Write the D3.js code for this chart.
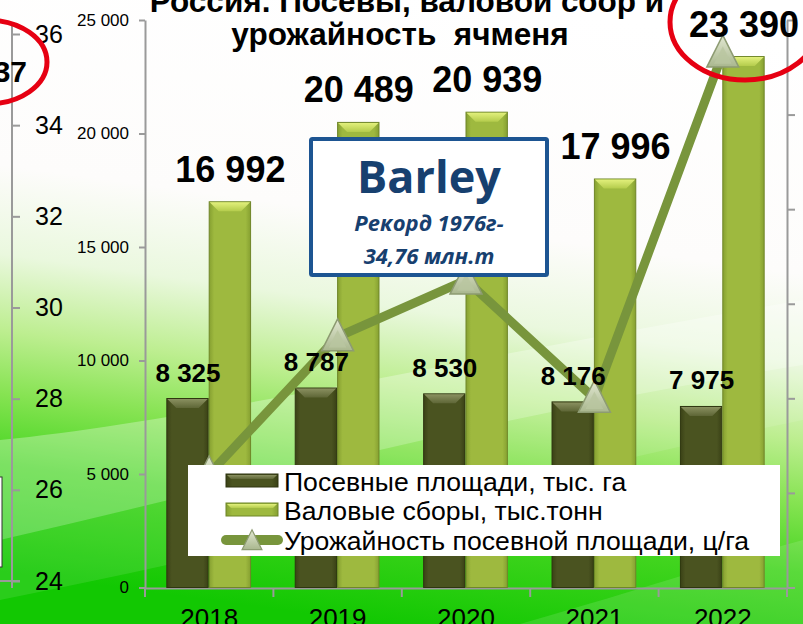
<!DOCTYPE html>
<html><head><meta charset="utf-8">
<script src="https://cdn.jsdelivr.net/npm/d3@7"></script>
<style>
html,body{margin:0;padding:0;background:#fff;overflow:hidden}
svg{display:block}
text{white-space:pre}
</style></head>
<body>
<svg id="chart" width="803" height="624"></svg>
<script>
// ---- data ----
const years = ["2018", "2019", "2020", "2021", "2022"];
const sownArea = [8325, 8787, 8530, 8176, 7975];          // тыс. га
const grossHarvest = [16992, 20489, 20939, 17996, 23390];  // тыс. тонн
const yieldValues = [20.4, 23.3, 24.5, 22.0, 29.3];       // ц/га
const barTicks = [0, 5000, 10000, 15000, 20000, 25000];
const yieldTicks = [18, 20, 22, 24, 26, 28, 30];
const neighbourTicks = [24, 26, 28, 30, 32, 34, 36];
const seriesNames = ["Посевные площади, тыс. га", "Валовые сборы, тыс.тонн", "Урожайность посевной площади, ц/га"];
const titleLines = ["Россия. Посевы, валовой сбор и", "урожайность  ячменя"];
const noteLines = ["Barley", "Рекорд 1976г-", "34,76 млн.т"];
const neighbourLabel = "37";

const W = 803, H = 624;
const svg = d3.select("#chart");
const defs = svg.append("defs");
const fmt = v => d3.format(",")(v).replace(/,/g, " ");

// ---- background ----
const bg = defs.append("linearGradient").attr("id", "bg").attr("gradientUnits", "userSpaceOnUse")
  .attr("x1", 470).attr("y1", 0).attr("x2", 385).attr("y2", 624);
[[0, "#ffffff"], [0.36, "#fdfcfb"], [0.5, "#eaf8de"], [0.62, "#bdee90"], [0.72, "#86e352"], [0.83, "#44d520"], [1, "#12c802"]]
  .forEach(([o, c]) => bg.append("stop").attr("offset", o).attr("stop-color", c));
svg.append("rect").attr("width", W).attr("height", H).attr("fill", "url(#bg)");
// soft light waves
svg.append("path")
  .attr("d", "M0,440 C200,420 450,360 803,300 L803,365 C520,410 260,480 0,540 Z")
  .attr("fill", "#ffffff").attr("opacity", 0.3);
svg.append("path")
  .attr("d", "M0,540 C260,480 520,410 803,365 L803,420 C560,470 300,540 0,600 Z")
  .attr("fill", "#ffffff").attr("opacity", 0.10);
svg.append("path")
  .attr("d", "M520,624 C640,590 730,560 803,540 L803,624 Z")
  .attr("fill", "#ffffff").attr("opacity", 0.12);

// ---- scales ----
const x = d3.scaleBand().domain(years).range([145, 787]).paddingInner(0.34).paddingOuter(0.17);
const xs = d3.scaleBand().domain(["area", "harvest"]).range([0, x.bandwidth()]).padding(0);
const y = d3.scaleLinear().domain([0, 25000]).range([587.5, 20]);
const yR = d3.scaleLinear().domain([18, 30]).range([587.5, 20]);
const yN = d3.scaleLinear().domain([24, 36]).range([581, 34]);

const axisColor = "#9a9a9a";

// ---- neighbouring (cropped) axis on the left ----
svg.append("line").attr("x1", 12).attr("x2", 12).attr("y1", 25).attr("y2", 588)
  .attr("stroke", axisColor).attr("stroke-width", 2);
svg.append("line").attr("x1", 0).attr("x2", 20).attr("y1", yN(24)).attr("y2", yN(24))
  .attr("stroke", axisColor).attr("stroke-width", 2);
const gN = svg.append("g").attr("transform", "translate(12,0)")
  .call(d3.axisRight(yN).tickValues(neighbourTicks).tickSize(8).tickPadding(15).tickSizeOuter(0));
gN.select(".domain").remove();
gN.selectAll("line").attr("stroke", axisColor).attr("stroke-width", 2);
gN.selectAll("text").attr("font-family", "Liberation Sans, Arial, sans-serif").attr("font-size", 25).attr("fill", "#000");
svg.append("rect").attr("x", -10).attr("y", 477).attr("width", 12).attr("height", 90)
  .attr("fill", "#fff").attr("stroke", "#333").attr("stroke-width", 1);

// ---- bar axis (left) ----
const gL = svg.append("g").attr("transform", "translate(145,0)")
  .call(d3.axisLeft(y).tickValues(barTicks).tickFormat(fmt).tickSize(6).tickPadding(10).tickSizeOuter(0));
gL.select(".domain").attr("stroke", axisColor).attr("stroke-width", 2);
gL.selectAll("line").attr("stroke", axisColor).attr("stroke-width", 2);
gL.selectAll("text").attr("font-family", "Liberation Sans, Arial, sans-serif").attr("font-size", 17).attr("fill", "#000");

// ---- right yield axis (its labels lie beyond the cropped edge) ----
const gR = svg.append("g").attr("transform", "translate(787,0)")
  .call(d3.axisRight(yR).tickValues(yieldTicks).tickFormat("").tickSize(8).tickSizeOuter(0));
gR.select(".domain").attr("stroke", axisColor).attr("stroke-width", 2);
gR.selectAll("line").attr("stroke", axisColor).attr("stroke-width", 2);

// ---- category axis ----
const gB = svg.append("g").attr("transform", "translate(0,588)")
  .call(d3.axisBottom(x).tickSize(0).tickPadding(20.5));
gB.select(".domain").attr("stroke", axisColor).attr("stroke-width", 2);
gB.selectAll("text").attr("font-family", "Liberation Sans, Arial, sans-serif").attr("font-size", 26).attr("fill", "#000");
const bounds = years.map(d => x(d) - x.step() * x.paddingInner() / 2).concat([x(years[4]) + x.bandwidth() + x.step() * x.paddingInner() / 2]);
svg.append("g").selectAll("line").data(bounds).join("line")
  .attr("x1", d => d).attr("x2", d => d).attr("y1", 588).attr("y2", 597)
  .attr("stroke", axisColor).attr("stroke-width", 2);

// ---- bar gradients ----
function hGrad(id, edge, mid) {
  const g = defs.append("linearGradient").attr("id", id).attr("x1", 0).attr("x2", 1).attr("y1", 0).attr("y2", 0);
  g.append("stop").attr("offset", 0).attr("stop-color", edge);
  g.append("stop").attr("offset", 0.12).attr("stop-color", mid);
  g.append("stop").attr("offset", 0.88).attr("stop-color", mid);
  g.append("stop").attr("offset", 1).attr("stop-color", edge);
}
hGrad("gDark", "#3a4116", "#4a5320");
hGrad("gLight", "#86a031", "#9eb93f");
function vGrad(id, c1, c2) {
  const g = defs.append("linearGradient").attr("id", id).attr("x1", 0).attr("x2", 0).attr("y1", 0).attr("y2", 1);
  g.append("stop").attr("offset", 0).attr("stop-color", c1);
  g.append("stop").attr("offset", 1).attr("stop-color", c2);
}
vGrad("bDark", "#8a9060", "#5e6636");
vGrad("bLight", "#e2f07c", "#b4cc4c");

const series = [
  {key: "area", values: sownArea, fill: "url(#gDark)", bevel: "url(#bDark)", stroke: "#2f3510"},
  {key: "harvest", values: grossHarvest, fill: "url(#gLight)", bevel: "url(#bLight)", stroke: "#6f8628"}
];

const barsG = svg.append("g");
series.forEach(s => {
  const bw = xs.bandwidth() - 1;
  const g = barsG.append("g");
  const items = years.map((yr, i) => ({yr, v: s.values[i]}));
  g.selectAll("rect").data(items).join("rect")
    .attr("x", d => x(d.yr) + xs(s.key))
    .attr("y", d => y(d.v))
    .attr("width", bw)
    .attr("height", d => y(0) - y(d.v))
    .attr("fill", s.fill).attr("stroke", s.stroke).attr("stroke-width", 1);
  g.selectAll("path.bevel").data(items).join("path").attr("class", "bevel")
    .attr("d", d => {
      const x0 = x(d.yr) + xs(s.key) + 0.5, x1 = x0 + bw - 1, t = y(d.v) + 0.5;
      return `M${x0},${t} L${x1},${t} L${x1 - 9},${t + 9} L${x0 + 9},${t + 9} Z`;
    })
    .attr("fill", s.bevel);
});

// ---- yield line ----
const pts = years.map((yr, i) => ({yr, v: yieldValues[i]}));
const lineGen = d3.line().x(d => x(d.yr) + x.bandwidth() / 2).y(d => yR(d.v));
svg.append("path").datum(pts).attr("d", lineGen)
  .attr("fill", "none").attr("stroke", "#78953c").attr("stroke-width", 9).attr("stroke-linejoin", "round");

const triG = defs.append("linearGradient").attr("id", "tri").attr("x1", 0).attr("x2", 0).attr("y1", 0).attr("y2", 1);
triG.append("stop").attr("offset", 0).attr("stop-color", "#e2e8d2");
triG.append("stop").attr("offset", 1).attr("stop-color", "#a9b78e");
function triPath(cx, cy, s) {
  return `M${cx},${cy - 18 * s} L${cx + 16 * s},${cy + 14 * s} L${cx - 16 * s},${cy + 14 * s} Z`;
}
const markers = svg.append("g").selectAll("g").data(pts).join("g");
markers.append("path").attr("d", d => triPath(x(d.yr) + x.bandwidth() / 2, yR(d.v), 1))
  .attr("fill", "url(#tri)").attr("stroke", "#8d9b72").attr("stroke-width", 1.5);
markers.append("path").attr("d", d => triPath(x(d.yr) + x.bandwidth() / 2, yR(d.v) + 3, 0.55))
  .attr("fill", "#b9c6a0").attr("opacity", 0.8);

// ---- data labels ----
const lblFont = "Liberation Sans, Arial, sans-serif";
svg.append("g").selectAll("text").data(years.map((yr, i) => ({yr, v: sownArea[i]}))).join("text")
  .attr("x", d => x(d.yr) + xs("area") + xs.bandwidth() / 2)
  .attr("y", d => y(d.v) - 17)
  .attr("text-anchor", "middle").attr("font-family", lblFont).attr("font-weight", "bold").attr("font-size", 26)
  .text(d => fmt(d.v));
svg.append("g").selectAll("text").data(years.map((yr, i) => ({yr, v: grossHarvest[i]}))).join("text")
  .attr("x", d => x(d.yr) + xs("harvest") + xs.bandwidth() / 2)
  .attr("y", d => y(d.v) - 20)
  .attr("text-anchor", "middle").attr("font-family", lblFont).attr("font-weight", "bold").attr("font-size", 36)
  .text(d => fmt(d.v));

// ---- legend ----
const lg = svg.append("g");
lg.append("rect").attr("x", 188).attr("y", 465).attr("width", 592).attr("height", 91).attr("fill", "#fff");
const rowsY = [481, 510, 540];
lg.append("rect").attr("x", 226).attr("y", rowsY[0] - 7).attr("width", 52).attr("height", 13)
  .attr("fill", "url(#gDark)").attr("stroke", "#2f3510");
lg.append("path").attr("d", `M227,${rowsY[0] - 6} L277,${rowsY[0] - 6} L273,${rowsY[0] - 2} L231,${rowsY[0] - 2} Z`).attr("fill", "url(#bDark)");
lg.append("rect").attr("x", 226).attr("y", rowsY[1] - 7).attr("width", 52).attr("height", 13)
  .attr("fill", "url(#gLight)").attr("stroke", "#6f8628");
lg.append("path").attr("d", `M227,${rowsY[1] - 6} L277,${rowsY[1] - 6} L273,${rowsY[1] - 2} L231,${rowsY[1] - 2} Z`).attr("fill", "url(#bLight)");
lg.append("line").attr("x1", 226).attr("x2", 278).attr("y1", rowsY[2]).attr("y2", rowsY[2])
  .attr("stroke", "#78953c").attr("stroke-width", 10).attr("stroke-linecap", "round");
lg.append("path").attr("d", triPath(252, rowsY[2] + 1, 0.62)).attr("fill", "url(#tri)").attr("stroke", "#8d9b72").attr("stroke-width", 1.2);
lg.selectAll("text").data(seriesNames).join("text")
  .attr("x", 284).attr("y", (d, i) => rowsY[i]).attr("dy", "0.36em")
  .attr("font-family", lblFont).attr("font-size", 26.6).attr("fill", "#000")
  .text(d => d);

// ---- note box ----
const nb = svg.append("g");
nb.append("rect").attr("x", 311).attr("y", 139).attr("width", 236).attr("height", 136)
  .attr("fill", "#fff").attr("stroke", "#1d5592").attr("stroke-width", 4).attr("rx", 1.5);
nb.append("text").attr("x", 429).attr("y", 193).attr("text-anchor", "middle")
  .attr("font-family", "Open Sans, sans-serif").attr("font-weight", "bold").attr("font-size", 45)
  .attr("fill", "#17406f").text(noteLines[0]);
nb.selectAll("text.sub").data(noteLines.slice(1)).join("text").attr("class", "sub")
  .attr("x", 429).attr("y", (d, i) => 231 + i * 33).attr("text-anchor", "middle")
  .attr("font-family", "Open Sans, sans-serif").attr("font-weight", "bold").attr("font-style", "italic")
  .attr("font-size", 22).attr("fill", "#17406f").text(d => d);

// ---- title ----
svg.append("g").selectAll("text").data(titleLines).join("text")
  .attr("x", (d, i) => i === 0 ? 407 : 400).attr("y", (d, i) => 12 + i * 33)
  .attr("text-anchor", "middle").attr("font-family", lblFont).attr("font-weight", "bold").attr("font-size", 31.5)
  .attr("xml:space", "preserve")
  .attr("fill", "#000").text(d => d);

// ---- neighbour label and red highlight ellipses ----
svg.append("text").attr("x", 27).attr("y", 82).attr("text-anchor", "end")
  .attr("font-family", lblFont).attr("font-weight", "bold").attr("font-size", 30).text(neighbourLabel);
svg.append("ellipse").attr("cx", -13).attr("cy", 62).attr("rx", 60).attr("ry", 42)
  .attr("fill", "none").attr("stroke", "#e60012").attr("stroke-width", 5);
svg.append("ellipse").attr("cx", 745).attr("cy", 22).attr("rx", 75).attr("ry", 58)
  .attr("fill", "none").attr("stroke", "#e60012").attr("stroke-width", 5);
</script>
</body></html>
